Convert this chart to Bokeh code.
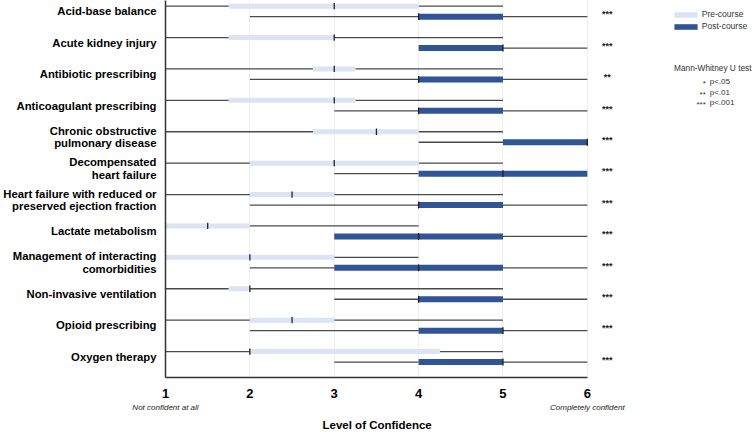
from bokeh.plotting import figure
from bokeh.models import (Range1d, FixedTicker, Legend, LegendItem, LinearAxis,
                          ColumnDataSource, Title)
from bokeh.core.properties import value
from bokeh.embed import file_html
from bokeh.resources import INLINE

categories = [
    "Acid-base balance",
    "Acute kidney injury",
    "Antibiotic prescribing",
    "Anticoagulant prescribing",
    "Chronic obstructive\npulmonary disease",
    "Decompensated\nheart failure",
    "Heart failure with reduced or\npreserved ejection fraction",
    "Lactate metabolism",
    "Management of interacting\ncomorbidities",
    "Non-invasive ventilation",
    "Opioid prescribing",
    "Oxygen therapy",
]

pre_min = [1, 1, 1, 1, 1, 1, 1, 1, 1, 1, 1, 1]
pre_q1 = [1.75, 1.75, 2.75, 1.75, 2.75, 2, 2, 1, 1, 1.75, 2, 2]
pre_med = [3, 3, 3, 3, 3.5, 3, 2.5, 1.5, 2, 2, 2.5, 2]
pre_q3 = [4, 3, 3.25, 3.25, 4, 4, 3, 2, 3, 2, 3, 4.25]
pre_max = [5, 5, 5, 5, 5, 5, 5, 4, 4, 5, 5, 5]

post_min = [2, 4, 2, 3, 4, 3, 2, 3, 2, 3, 2, 3]
post_q1 = [4, 4, 4, 4, 5, 4, 4, 3, 3, 4, 4, 4]
post_med = [4, 5, 4, 4, 6, 5, 4, 4, 4, 4, 5, 5]
post_q3 = [5, 5, 5, 5, 6, 6, 5, 5, 5, 5, 5, 5]
post_max = [6, 6, 6, 6, 6, 6, 6, 6, 6, 6, 6, 6]

significance = ["***", "***", "**", "***", "***", "***", "***", "***", "***", "***", "***", "***"]

x_ticks = [1, 2, 3, 4, 5, 6]
x_low_text = "Not confident at all"
x_high_text = "Completely confident"
x_title = "Level of Confidence"
series_names = ["Pre-course", "Post-course"]
sig_title = "Mann-Whitney U test"
sig_keys = ["*", "**", "***"]
sig_texts = ["p<.05", "p<.01", "p<.001"]

PRE_COLOR = "#dbe3f4"
POST_COLOR = "#2f5597"
WHISKER = "#4a4a4a"
FONT = "Liberation Sans"

W, H = 752, 432
LEFT = 162            # frame left (px)
AXIS_Y = 377          # frame bottom (px)
PX_X = 84.8           # px per unit on x
PX_Y = 31.4           # px per category
MID0 = 10.9           # px of first category centre
X0, X1 = 1, 6


def dx(px):
    return X0 + (px - LEFT) / PX_X


def dy(py):
    return (py - MID0) / PX_Y


n = len(categories)
idx = list(range(n))
off = 0.167
y_pre = [i - off for i in idx]
y_post = [i + off for i in idx]

pre_src = ColumnDataSource(dict(y=y_pre, lo=pre_min, q1=pre_q1, med=pre_med, q3=pre_q3, hi=pre_max,
                                m0=[v - 0.1 for v in y_pre], m1=[v + 0.1 for v in y_pre]))
post_src = ColumnDataSource(dict(y=y_post, lo=post_min, q1=post_q1, med=post_med, q3=post_q3, hi=post_max,
                                 m0=[v - 0.11 for v in y_post], m1=[v + 0.11 for v in y_post]))

p = figure(width=W, height=H, output_backend="svg", toolbar_location=None,
           x_range=Range1d(X0, dx(W)),
           y_range=Range1d(dy(AXIS_Y), dy(0)),
           min_border_left=LEFT, min_border_right=0, min_border_top=0,
           min_border_bottom=0, title=None)
p.outline_line_color = None
p.background_fill_color = "white"
p.border_fill_color = "white"

# grid
p.xgrid.ticker = FixedTicker(ticks=x_ticks[1:])
p.xgrid.grid_line_color = "#efefef"
p.ygrid.grid_line_color = None

# x axis (values)
p.xaxis.ticker = FixedTicker(ticks=x_ticks)
p.xaxis.bounds = (X0, X1)
p.xaxis.major_tick_line_color = None
p.xaxis.minor_tick_line_color = None
p.xaxis.axis_line_color = "#333333"
p.xaxis.axis_line_width = 1.5
p.xaxis.major_label_text_font = FONT
p.xaxis.major_label_text_font_style = "bold"
p.xaxis.major_label_text_font_size = "13px"
p.xaxis.major_label_text_color = "black"
p.xaxis.major_label_standoff = 5

# second x axis: scale extremes
ax2 = LinearAxis(ticker=FixedTicker(ticks=[X0, X1]),
                 major_label_overrides={X0: x_low_text, X1: x_high_text},
                 bounds=(X0, X1), axis_line_color=None, major_tick_line_color=None,
                 minor_tick_line_color=None, major_tick_out=0, major_tick_in=0,
                 minor_tick_out=0, major_label_standoff=2,
                 major_label_text_font=FONT, major_label_text_font_style="italic",
                 major_label_text_font_size="8px", major_label_text_color="#222222")
p.add_layout(ax2, "below")

# axis title, centred under the 1..6 scale
p.add_layout(Title(text=x_title, align="left", offset=157, standoff=4,
                   text_font=FONT, text_font_style="bold", text_font_size="11.5px",
                   text_color="black"), "below")

# y axis with category names
p.yaxis.ticker = FixedTicker(ticks=idx)
p.yaxis.major_label_overrides = {i: c for i, c in enumerate(categories)}
p.yaxis.major_tick_line_color = None
p.yaxis.minor_tick_line_color = None
p.yaxis.major_tick_out = 0
p.yaxis.major_tick_in = 0
p.yaxis.minor_tick_out = 0
p.yaxis.major_label_text_font = FONT
p.yaxis.major_label_text_font_style = "bold"
p.yaxis.major_label_text_font_size = "11.3px"
p.yaxis.major_label_text_color = "black"
p.yaxis.major_label_text_line_height = 1.02
p.yaxis.major_label_standoff = 9
p.yaxis.axis_line_color = "#333333"
p.yaxis.axis_line_width = 1.5

# whiskers
for src in (pre_src, post_src):
    p.segment(x0="lo", x1="q1", y0="y", y1="y", source=src, line_color=WHISKER, line_width=1.3)
    p.segment(x0="q3", x1="hi", y0="y", y1="y", source=src, line_color=WHISKER, line_width=1.3)

# boxes
pre_box = p.hbar(y="y", left="q1", right="q3", height=0.16, source=pre_src,
                 fill_color=PRE_COLOR, line_color=None)
post_box = p.hbar(y="y", left="q1", right="q3", height=0.19, source=post_src,
                  fill_color=POST_COLOR, line_color=None)

# medians
for src in (pre_src, post_src):
    p.segment(x0="med", x1="med", y0="m0", y1="m1", source=src, line_color="#222222", line_width=1.3)

# significance stars
p.text(x=[X1] * n, y=idx, text=significance, x_offset=20, y_offset=3,
       text_align="center", text_baseline="middle", text_font=value(FONT),
       text_font_style="bold", text_font_size="9px", text_color="#222222")

# legend
legend = Legend(items=[LegendItem(label=series_names[0], renderers=[pre_box]),
                       LegendItem(label=series_names[1], renderers=[post_box])],
                location=(667.8 - LEFT, AXIS_Y - 31), orientation="vertical",
                glyph_width=29, glyph_height=7, label_height=10, spacing=2,
                padding=0, margin=0, border_line_color=None, background_fill_alpha=0,
                label_text_font=FONT, label_text_font_size="8.5px", label_standoff=2,
                label_text_color="#333333")
p.add_layout(legend, "center")

# significance key
p.text(x=[dx(751)], y=[dy(67)], text=[sig_title], text_align="right", text_baseline="middle",
       text_font=value(FONT), text_font_size="8.3px", text_color="#333333")
key_y = [dy(81 + 10.5 * k) for k in range(len(sig_keys))]
p.text(x=[dx(705)] * len(sig_keys), y=key_y, text=sig_keys, y_offset=2, text_align="right",
       text_baseline="middle", text_font=value(FONT), text_font_size="8px", text_color="#333333")
p.text(x=[dx(709)] * len(sig_texts), y=key_y, text=sig_texts, text_align="left",
       text_baseline="middle", text_font=value(FONT), text_font_size="8px", text_color="#333333")

open("out.html", "w").write(file_html(p, INLINE))
